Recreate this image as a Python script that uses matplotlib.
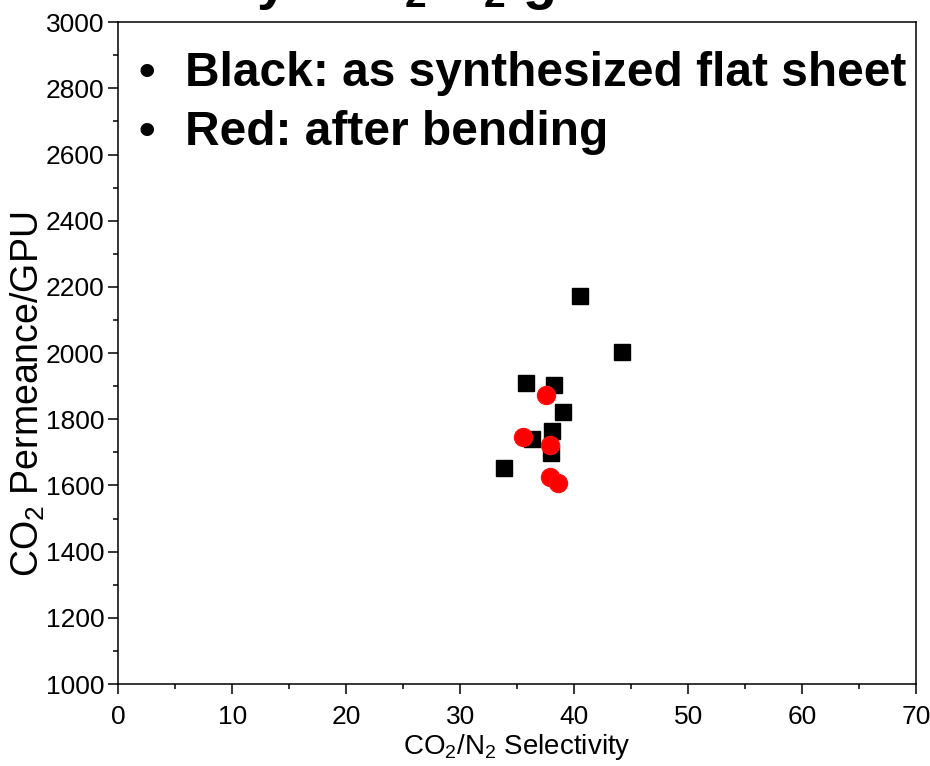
import numpy as np
import matplotlib
matplotlib.use('Agg')
import matplotlib.pyplot as plt
from matplotlib.ticker import MultipleLocator

plt.rcParams['font.family'] = ['Liberation Sans', 'DejaVu Sans']
plt.rcParams['mathtext.fontset'] = 'custom'
plt.rcParams['mathtext.rm'] = 'Liberation Sans'
plt.rcParams['mathtext.bf'] = 'Liberation Sans:bold'

# black squares: as synthesized flat sheet
flat_sel = [40.5, 44.2, 35.8, 38.2, 39.0, 38.05, 36.3, 38.0, 33.8]
flat_perm = [2172, 2004, 1911, 1903, 1821, 1764, 1740, 1699, 1652]

# red circles: after bending
bent_sel = [37.5, 35.5, 37.9, 37.9, 38.6]
bent_perm = [1872, 1747, 1722, 1626, 1608]

x_ticks = [0, 10, 20, 30, 40, 50, 60, 70]
y_ticks = [1000, 1200, 1400, 1600, 1800, 2000, 2200, 2400, 2600, 2800, 3000]

notes = ['Black: as synthesized flat sheet', 'Red: after bending']

narrow = ['Liberation Sans Narrow', 'Liberation Sans']

fig = plt.figure(figsize=(9.3, 7.66), dpi=100)
ax = fig.add_axes([0.1274, 0.107, 0.8575, 0.864])

ax.plot(flat_sel, flat_perm, 's', color='black', ms=11, mec='black', zorder=3)
ax.plot(bent_sel, bent_perm, 'o', color='#ff0000', ms=13, mec='#ff1010', zorder=4)

ax.set_xlim(0, 70)
ax.set_ylim(1000, 3000)
ax.set_xticks(x_ticks)
ax.set_yticks(y_ticks)
ax.xaxis.set_minor_locator(MultipleLocator(5))
ax.yaxis.set_minor_locator(MultipleLocator(100))
ax.tick_params(which='major', direction='out', length=7, width=1.1)
ax.tick_params(which='minor', direction='out', length=3.5, width=1.1)
ax.tick_params(axis='x', pad=8)
ax.tick_params(axis='y', pad=3)
for lab in ax.get_xticklabels() + ax.get_yticklabels():
    lab.set_family(narrow)
    lab.set_fontsize(19)
for sp in ax.spines.values():
    sp.set_linewidth(1.1)

ax.set_xlabel(r'CO$_2$/N$_2$ Selectivity', fontsize=20, labelpad=2)
ax.set_ylabel(r'CO$_2$ Permeance/GPU', fontsize=27)
ax.yaxis.set_label_coords(-0.09, 0.437)

# bullet notes over the plot
for i, t in enumerate(notes):
    y = 1 - (86 + 59 * i) / 766
    fig.text(147 / 930, y, '\u2022', fontsize=34, fontweight='bold', ha='center', va='baseline')
    fig.text(185 / 930, y, t, fontsize=34.5, fontweight='bold', ha='left', va='baseline')

# slide title above the picture, only its lowest strokes fall inside
fig.text(31 / 930, 1 + 2 / 766, r'Flexibility: CO$_\mathbf{2}$/N$_\mathbf{2}$ gas',
         fontsize=40, fontweight='bold', ha='left', va='baseline')

fig.savefig('out.png', dpi=100)
